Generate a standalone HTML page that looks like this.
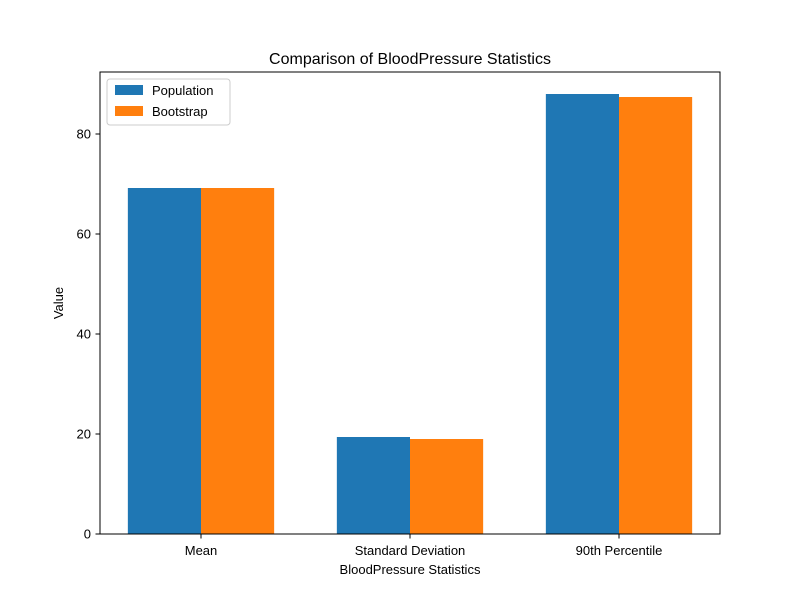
<!DOCTYPE html>
<html><head><meta charset="utf-8"><style>body{margin:0;background:#fff}svg{font-family:"Liberation Sans","DejaVu Sans",sans-serif}</style></head>
<body>
<svg id="chart" width="800" height="600" xmlns="http://www.w3.org/2000/svg">
<rect width="800" height="600" fill="#fff"/>
<text x="410" y="64" text-anchor="middle" font-size="16">Comparison of BloodPressure Statistics</text>
<g id="bars"></g>
<g id="axes"></g>
<text x="410" y="574" text-anchor="middle" font-size="13">BloodPressure Statistics</text>
<text x="63" y="303" text-anchor="middle" font-size="13" transform="rotate(-90 63 303)">Value</text>
<g>
<rect x="107" y="79" width="123" height="46" fill="#fff" stroke="#ccc" rx="3"/>
<rect x="115" y="85" width="28" height="10" fill="#1f77b4"/>
<text x="152" y="95" font-size="13">Population</text>
<rect x="115" y="106" width="28" height="10" fill="#ff7f0e"/>
<text x="152" y="116" font-size="13">Bootstrap</text>
</g>
</svg>
<script>
const categories=["Mean","Standard Deviation","90th Percentile"];
const population=[69.2,19.4,88.0];
const bootstrap=[69.2,19.0,87.4];
const yTicks=[0,20,40,60,80];
const NS="http://www.w3.org/2000/svg";
const xs=v=>201+209*v, ys=v=>534-5*v;
const bw=0.35;
function el(t,a,p){const e=document.createElementNS(NS,t);for(const k in a)e.setAttribute(k,a[k]);p.appendChild(e);return e;}
const bars=document.getElementById('bars'),axes=document.getElementById('axes');
categories.forEach((c,i)=>{
 const a=el('rect',{x:xs(i-bw),y:ys(population[i]),width:209*bw,height:ys(0)-ys(population[i]),fill:'#1f77b4'},bars);
 
 
 const b=el('rect',{x:xs(i),y:ys(bootstrap[i]),width:209*bw,height:ys(0)-ys(bootstrap[i]),fill:'#ff7f0e'},bars);
 
 
 el('line',{x1:xs(i),x2:xs(i),y1:534,y2:538.5,stroke:'#000'},axes);
 const t=el('text',{x:xs(i),y:555,'text-anchor':'middle','font-size':13},axes);t.textContent=c;
 
 
});
yTicks.forEach(v=>{
 el('line',{x1:95.5,x2:100,y1:ys(v),y2:ys(v),stroke:'#000'},axes);
 const t=el('text',{x:91,y:ys(v)+4.5,'text-anchor':'end','font-size':13},axes);t.textContent=v;
 
 
});
const f=el('rect',{x:100,y:72,width:620,height:462,fill:'none',stroke:'#000','stroke-width':1},axes);


</script>
</body></html>
